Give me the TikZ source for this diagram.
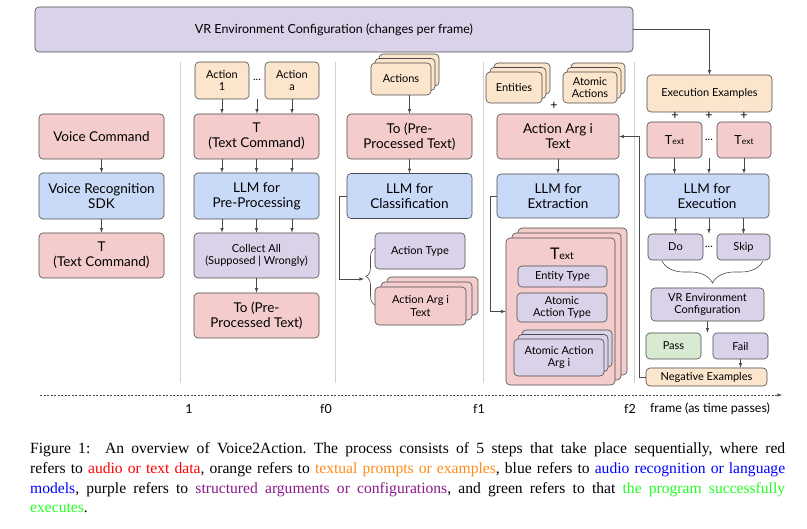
\documentclass[tikz,border=0pt]{standalone}
\usepackage{fontspec}
\setmainfont{Lato}
\newfontfamily\capfont{Liberation Serif}
\usepackage{tikz}
\usetikzlibrary{arrows,positioning,shadows,decorations.pathreplacing}
\definecolor{redfill}{HTML}{F4CCCC}
\definecolor{bluefill}{HTML}{C9DAF8}
\definecolor{purplefill}{HTML}{D9D2E9}
\definecolor{orangefill}{HTML}{FCE5CD}
\definecolor{greenfill}{HTML}{D9EAD3}
\definecolor{edgegray}{HTML}{4A4A4A}
\definecolor{sepgray}{HTML}{D0D0D0}
\definecolor{capred}{HTML}{FF0000}
\definecolor{caporange}{HTML}{FF8C1A}
\definecolor{capblue}{HTML}{0000FF}
\definecolor{cappurple}{HTML}{8B1A8B}
\definecolor{capgreen}{HTML}{22FF22}
\newcommand\bigtxt{\fontsize{13.5}{15}\selectfont}
\newcommand\midtxt{\fontsize{12.5}{14}\selectfont}
\newcommand\smalltxt{\fontsize{11}{12.5}\selectfont}
\tikzset{main rectangle/.style={rectangle,rounded corners=4pt,draw=edgegray,line width=0.6pt,inner sep=0pt,align=center,minimum width=125,minimum height=45,font=\bigtxt},}
\tikzset{red rectangle/.style={main rectangle,fill=redfill},}
\tikzset{blue rectangle/.style={main rectangle,fill=bluefill},}
\tikzset{purple rectangle/.style={main rectangle,fill=purplefill},}
\tikzset{orange rectangle/.style={main rectangle,fill=orangefill},}
\tikzset{green rectangle/.style={main rectangle,fill=greenfill},}
\tikzset{small stack/.style={copy shadow={shadow xshift=8pt,shadow yshift=9pt},copy shadow={shadow xshift=4pt,shadow yshift=4.5pt}},}
\tikzset{large stack/.style={copy shadow={shadow xshift=12pt,shadow yshift=10pt},copy shadow={shadow xshift=6pt,shadow yshift=5pt}},}
\tikzset{main text/.style={inner sep=0pt,font=\smalltxt},}
\tikzset{main line/.style={draw=edgegray,line width=0.6pt,>=latex},}
\tikzset{caption line/.style={anchor=base west,inner sep=0pt,font=\capfont\fontsize{15.6}{19.7}\selectfont\frenchspacing},}

\begin{document}
\begin{tikzpicture}[x=1pt,y=-1pt]
    \useasboundingbox (0,0) rectangle (807,529);
    % frame separators
    \foreach \x in {180,335,483,634}
        \draw[sepgray,line width=0.6pt] (\x,62) -- (\x,383);

    \node[purple rectangle,minimum width=598,font=\midtxt] (1) at (334,29.5) {VR Environment Configuration (changes per frame)};

    % voice to text
    \node[red rectangle] (2) at (101.5,136.5) {Voice Command};
    \node[blue rectangle,minimum height=46] (3) at (101.5,196) {Voice Recognition\\SDK};
    \node[red rectangle] (4) at (101.5,255.5) {T\\(Text Command)};

    % pre-processing
    \node[orange rectangle,minimum width=54,minimum height=37,font=\smalltxt] (5) at (222,80.5) {Action\\1};
    \node[orange rectangle,minimum width=54,minimum height=37,font=\smalltxt] (6) at (292,80.5) {Action\\a};
    \node[main text] (7) at (257,80) {...};
    \node[red rectangle] (8) at (256.5,136.5) {T\\(Text Command)};
    \node[blue rectangle,minimum height=46] (9) at (256.5,196) {LLM for\\Pre-Processing};
    \node[purple rectangle,font=\smalltxt] (10) at (256.5,255.5) {Collect All\\(Supposed | Wrongly)};
    \node[red rectangle] (11) at (256.5,315.5) {To (Pre-\\Processed Text)};

    % classification
    \node[orange rectangle,small stack,minimum width=60,minimum height=32,font=\smalltxt] (12) at (401,79) {Actions};
    \node[red rectangle] (13) at (409.5,136.5) {To (Pre-\\Processed Text)};
    \node[blue rectangle] (14) at (409.5,196) {LLM for\\Classification};
    \node[purple rectangle,minimum width=90,minimum height=36,font=\smalltxt] (15) at (420,251) {Action Type};
    \node[red rectangle,large stack,minimum width=91,minimum height=38,font=\smalltxt] (16) at (420.5,306) {Action Arg i\\Text};

    % extraction
    \node[orange rectangle,small stack,minimum width=56,minimum height=31,font=\smalltxt] (17) at (514,87.5) {Entities};
    \node[orange rectangle,small stack,minimum width=54,minimum height=31,font=\smalltxt] (18) at (590,87.5) {Atomic\\Actions};
    \node[main text,font=\midtxt] (19) at (554,106) {+};
    \node[red rectangle,minimum width=122] (20) at (558,136.5) {Action Arg i\\Text};
    \node[blue rectangle,minimum width=122,minimum height=44] (21) at (558,196) {LLM for\\Extraction};
    \node[red rectangle,large stack,minimum width=109,minimum height=147] (22) at (560.5,311.5) {};
    \node[main text,font=\fontsize{16}{18}\selectfont] (23) at (562,254) {T{\fontsize{10.5}{12}\selectfont ext}};
    \node[purple rectangle,minimum width=89,minimum height=21,font=\smalltxt] (24) at (562.5,276.5) {Entity Type};
    \node[purple rectangle,minimum width=90,minimum height=29,font=\smalltxt] (25) at (562,307.5) {Atomic\\Action Type};
    \node[purple rectangle,small stack,minimum width=90,minimum height=37,font=\smalltxt] (26) at (559,357.5) {Atomic Action\\Arg i};

    % execution
    \node[orange rectangle,minimum height=37,font=\smalltxt] (27) at (709.5,93.5) {Execution Examples};
    \node[main text,font=\midtxt] (28) at (675,116) {+};
    \node[main text,font=\midtxt] (29) at (709,116) {+};
    \node[main text,font=\midtxt] (30) at (744,116) {+};
    \node[red rectangle,minimum width=55,minimum height=36,font=\midtxt] (31) at (674.5,140) {T{\fontsize{8.5}{10}\selectfont ext}};
    \node[main text] (32) at (709,140) {...};
    \node[red rectangle,minimum width=54,minimum height=36,font=\midtxt] (33) at (744,140) {T{\fontsize{8.5}{10}\selectfont ext}};
    \node[blue rectangle,minimum width=124,minimum height=44] (34) at (707,196) {LLM for\\Execution};
    \node[purple rectangle,minimum width=55,minimum height=26,font=\smalltxt] (35) at (675.5,247) {Do};
    \node[main text] (36) at (709,247) {...};
    \node[purple rectangle,minimum width=53,minimum height=26,font=\smalltxt] (37) at (743.5,247) {Skip};
    \node[purple rectangle,minimum width=113,minimum height=33,font=\smalltxt] (38) at (707.5,304.5) {VR Environment\\Configuration};
    \node[green rectangle,minimum width=55,minimum height=26,font=\smalltxt] (39) at (673.5,346) {Pass};
    \node[purple rectangle,minimum width=55,minimum height=26,font=\smalltxt] (40) at (740.5,346) {Fail};
    \node[orange rectangle,minimum width=121,minimum height=18,font=\smalltxt] (41) at (706.5,377) {Negative Examples};

    % time axis
    \coordinate (42) at (40,395);
    \coordinate (43) at (782,395);
    \node[main text,font=\midtxt] (44) at (189,409) {1};
    \node[main text,font=\midtxt] (45) at (326,409) {f0};
    \node[main text,font=\midtxt] (46) at (479,409) {f1};
    \node[main text,font=\midtxt] (47) at (630,409) {f2};
    \node[main text,font=\midtxt] (48) at (710,409) {frame (as time passes)};
    \draw[main line,dashed,dash pattern=on 2pt off 1.5pt,->] (42) -- (43);

    % brace tips
    \coordinate (49) at (364,279);
    \coordinate (50) at (375,305);
    \coordinate (51) at (375,248);
    \coordinate (52) at (763,261);
    \coordinate (53) at (662,261);

    \draw[main line,->] (2) -- (3);
    \draw[main line,->] (3) -- (4);

    \draw[main line,->] (5) -- (8.north -| 5);
    \draw[main line,->] (5.south -| 7) -- (8.north -| 7);
    \draw[main line,->] (6) -- (8.north -| 6);
    \draw[main line,->] (8.south -| 5) -- (9.north -| 5);
    \draw[main line,->] (8) -- (9);
    \draw[main line,->] (8.south -| 6) -- (9.north -| 6);
    \draw[main line,->] (9.south -| 5) -- (10.north -| 5);
    \draw[main line,->] (9) -- (10);
    \draw[main line,->] (9.south -| 6) -- (10.north -| 6);
    \draw[main line,->] (10) -- (11);

    \draw[main line,->] (12.south -| 13) -- (13);
    \draw[main line,->] (13) -- (14);
    \draw[main line,decorate,decoration={brace,amplitude=9pt}] (50) -- (51);
    \draw[main line,->] (14.west) -- ++(-7,0) |- (49);

    \draw[main line,->] (20) -- (21);
    \draw[main line,->] (21.west) -- ++(-6,0) |- (22.west);

    \draw[main line,->] (1.east) -| (27.north);
    \draw[main line,->] (31) -- (34.north -| 31);
    \draw[main line,->] (31.south -| 32) -- (34.north -| 32);
    \draw[main line,->] (33) -- (34.north -| 33);
    \draw[main line,->] (34.south -| 35) -- (35);
    \draw[main line,->] (34.south -| 36) -- (35.north -| 36);
    \draw[main line,->] (34.south -| 37) -- (37);
    \draw[main line,decorate,decoration={brace,amplitude=22pt}] (52) -- (53);
    \draw[main line,->] (38) -- (39.north -| 38);
    \draw[main line,->] (40) -- (41.north -| 40);
    \draw[main line,->] (41.west) -- ++(-6,0) |- (20.east);

    % caption
    \node[caption line] (54) at (30,454) {\makebox[755pt][s]{Figure 1:\ \ An overview of Voice2Action. The process consists of 5 steps that take place sequentially, where red}};
    \node[caption line] (55) at (30,474) {\makebox[755pt][s]{refers to \textcolor{capred}{audio or text data}, orange refers to \textcolor{caporange}{textual prompts or examples}, blue refers to \textcolor{capblue}{audio recognition or language}}};
    \node[caption line] (56) at (30,493.5) {\makebox[755pt][s]{\textcolor{capblue}{models}, purple refers to \textcolor{cappurple}{structured arguments or configurations}, and green refers to that \textcolor{capgreen}{the program successfully}}};
    \node[caption line] (57) at (30,513) {\textcolor{capgreen}{executes}.};
\end{tikzpicture}
\end{document}
